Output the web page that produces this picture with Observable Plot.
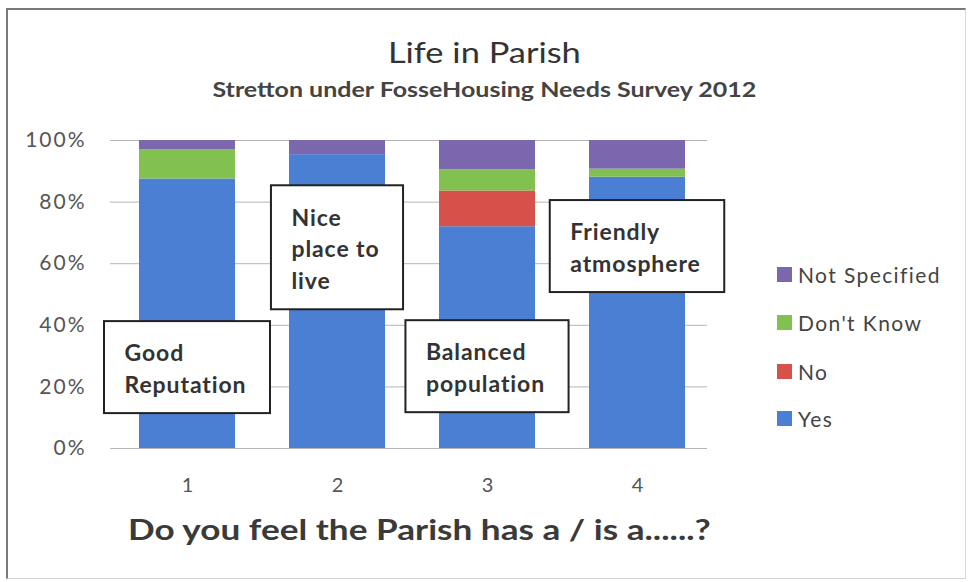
<!DOCTYPE html>
<html>
<head>
<meta charset="utf-8">
<script src="https://cdn.jsdelivr.net/npm/d3@7"></script>
<script src="https://cdn.jsdelivr.net/npm/@observablehq/plot@0.6"></script>
<style>
  html, body { margin: 0; padding: 0; background: #fff; }
  #wrap { position: relative; width: 969px; height: 582px; overflow: hidden; font-family: Lato, "Open Sans", sans-serif; background: #fff; }
  #border { position: absolute; left: 6px; top: 8px; width: 960px; height: 571px; border-left: 2px solid #7a7a7a; border-top: 2px solid #7a7a7a; border-right: 1px solid #d8d8d8; border-bottom: 1px solid #d0d0d0; box-sizing: border-box; }
  #chart { position: absolute; left: 0; top: 0; }
  .title { position: absolute; left: 0; width: 969px; text-align: center; white-space: nowrap; transform-origin: 485px 0; }
  #t1 { top: 38px; font-size: 28px; line-height: 28px; color: #333; transform: scaleX(1.23); }
  #t2 { top: 79px; font-size: 20px; line-height: 20px; font-weight: bold; color: #444; transform: scaleX(1.25); }
  #xt { position: absolute; left: 128px; top: 515px; font-size: 28px; line-height: 28px; font-weight: bold; color: #3a3a3a; white-space: nowrap; transform-origin: 0 0; transform: scaleX(1.255); }
  .leg { position: absolute; left: 777px; height: 22px; display: flex; align-items: center; font-size: 21px; color: #444; white-space: nowrap; letter-spacing: 1.4px; }
  .leg span.sw { display: inline-block; width: 15px; height: 15px; margin-right: 6px; }
</style>
</head>
<body>
<div id="wrap">
  <div id="border"></div>
  <div id="chart"></div>
  <div class="title" id="t1"></div>
  <div class="title" id="t2"></div>
  <div id="xt"></div>
</div>
<script>
// ---- data ----
const categories = ["1", "2", "3", "4"];
const series = ["Yes", "No", "Don't Know", "Not Specified"];
const yes = [87.5, 95.4, 72.0, 88.1];
const no = [0, 0, 11.6, 0];
const dontKnow = [9.5, 0, 6.9, 2.6];
const notSpecified = [3.0, 4.6, 9.5, 9.3];
const seriesColors = ["#4a7fd4", "#d6514a", "#82c050", "#7a67ad"];
const yTicks = [0, 20, 40, 60, 80, 100];
const noteLabels = ["Good\nReputation", "Nice\nplace to\nlive", "Balanced\npopulation", "Friendly\natmosphere"];
const noteTop = [41.2, 85.3, 41.5, 80.5];
const titleText = "Life in Parish";
const subtitleText = "Stretton under FosseHousing Needs Survey 2012";
const xTitle = "Do you feel the Parish has a / is a......?";

// ---- build tables ----
const seriesValues = [yes, no, dontKnow, notSpecified];
const rows = [];
series.forEach((s, si) => categories.forEach((c, ci) => rows.push({cat: c, series: s, value: seriesValues[si][ci]})));
const notes = categories.map((c, i) => ({cat: c, top: noteTop[i], label: noteLabels[i]}));

document.getElementById("t1").textContent = titleText;
document.getElementById("t2").textContent = subtitleText;
document.getElementById("xt").textContent = xTitle;

const plot = Plot.plot({
  width: 969,
  height: 582,
  marginLeft: 110,
  marginRight: 262,
  marginTop: 140,
  marginBottom: 134,
  style: {fontFamily: "Lato, 'Open Sans', sans-serif", background: "transparent"},
  x: {domain: categories, paddingInner: 0.357, paddingOuter: 0.16, align: 0.57, label: null},
  y: {domain: [0, 100], label: null},
  color: {domain: series, range: seriesColors},
  marks: [
    Plot.gridY(yTicks, {stroke: "#b5b5b5", strokeOpacity: 1, strokeWidth: 1}),
    Plot.barY(rows, {x: "cat", y: "value", fill: "series"}),
    Plot.axisX({tickSize: 0, tickPadding: 29, fontSize: 20, fill: "#555", label: null}),
    Plot.axisY({ticks: yTicks, tickFormat: d => d + "%", tickSize: 0, tickPadding: 24, fontSize: 21, fill: "#555", label: null, line: true, stroke: "#b5b5b5"}),
    Plot.text(notes, {x: "cat", y: "top", text: "label", textAnchor: "start", lineAnchor: "top", dy: 17,
      fontSize: 23, fontWeight: "bold", lineHeight: 32 / 23, fill: "#333"})
  ]
});
document.getElementById("chart").appendChild(plot);

// wider lettering to match the reference's glyph widths
plot.querySelectorAll('g[aria-label="y-axis tick label"]').forEach(e => e.setAttribute("letter-spacing", "2"));

// ---- boxes around the annotations ----
const xs = plot.scale("x"), ys = plot.scale("y");
const g = plot.querySelector('g[aria-label="text"]');
if (g) {
  g.setAttribute("letter-spacing", "0.9");
  const texts = Array.from(g.querySelectorAll("text"));
  const ns = "http://www.w3.org/2000/svg";
  const boxes = document.createElementNS(ns, "g");
  boxes.setAttribute("aria-label", "annotation boxes");
  g.parentNode.insertBefore(boxes, g);
  texts.forEach((t, i) => {
    const n = notes[i];
    const bb = t.getBBox();
    const w = bb.width + 44;
    const cx = xs.apply(n.cat) + xs.bandwidth / 2;
    const y0 = ys.apply(n.top);
    const lines = n.label.split("\n").length;
    const h = lines * 32 + 28;
    const rect = document.createElementNS(ns, "rect");
    rect.setAttribute("x", cx - w / 2);
    rect.setAttribute("y", y0);
    rect.setAttribute("width", w);
    rect.setAttribute("height", h);
    rect.setAttribute("fill", "#fff");
    rect.setAttribute("stroke", "#222");
    rect.setAttribute("stroke-width", 2);
    boxes.appendChild(rect);
    const wrapG = document.createElementNS(ns, "g");
    wrapG.setAttribute("transform", `translate(${-w / 2 + 20},0)`);
    g.insertBefore(wrapG, t);
    wrapG.appendChild(t);
  });
}

// ---- legend (top to bottom: reverse stack order) ----
const wrap = document.getElementById("wrap");
const legendTop = [263, 311, 360, 407];
series.slice().reverse().forEach((s, i) => {
  const d = document.createElement("div");
  d.className = "leg";
  d.style.top = legendTop[i] + "px";
  const sw = document.createElement("span");
  sw.className = "sw";
  sw.style.background = seriesColors[series.indexOf(s)];
  d.appendChild(sw);
  d.appendChild(document.createTextNode(s));
  wrap.appendChild(d);
});
</script>
</body>
</html>
